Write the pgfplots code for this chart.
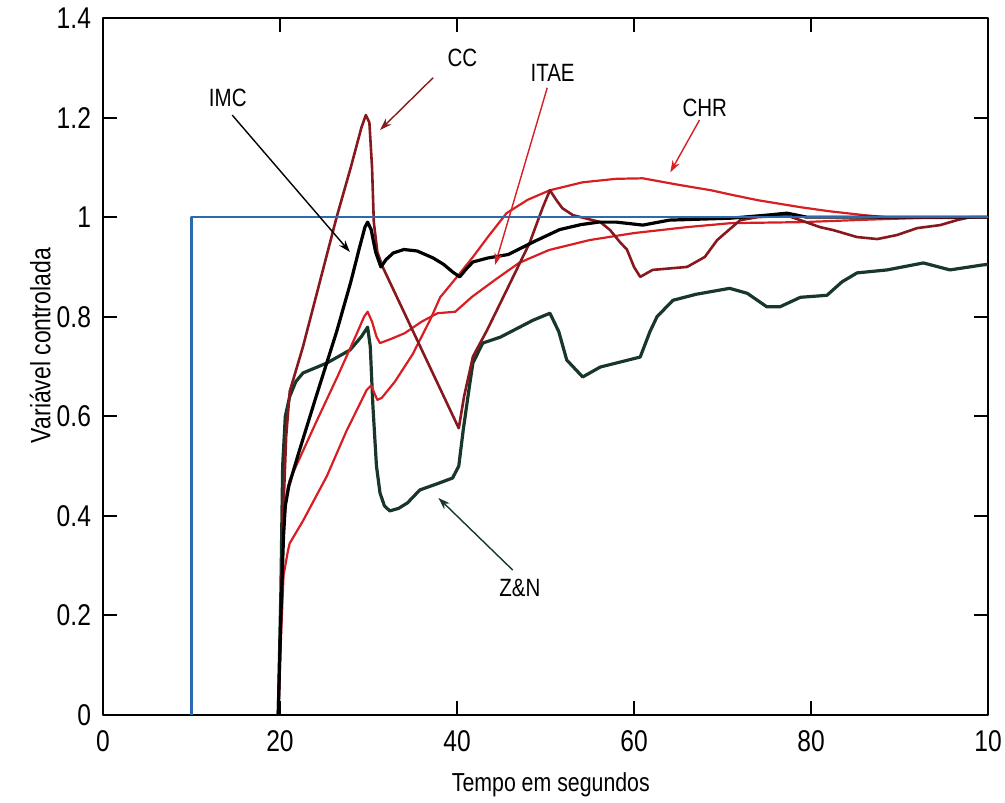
\documentclass[border=0pt]{standalone}
\usepackage{fontspec}
\setmainfont{Liberation Sans}[FakeStretch=0.82]
\usepackage{pgfplots}
\pgfplotsset{compat=1.18}
\usetikzlibrary{arrows.meta}

\definecolor{spblue}{RGB}{45,105,175}
\definecolor{ccred}{RGB}{135,25,30}
\definecolor{lred}{RGB}{215,30,35}
\definecolor{zngreen}{RGB}{25,55,40}

\begin{document}
\begin{tikzpicture}
\begin{axis}[
    scale only axis,
    width=442.5pt, height=348.5pt,
    xmin=0, xmax=100, ymin=0, ymax=1.4,
    xtick={0,20,40,60,80,100},
    xticklabels={0,20,40,60,80,10},
    ytick={0,0.2,0.4,0.6,0.8,1,1.2,1.4},
    tick align=inside,
    major tick length=7pt,
    axis line style={line width=1.1pt},
    every tick/.style={black, line width=1pt},
    /pgf/number format/assume math mode=true,
    tick label style={font=\fontsize{15}{17}\selectfont},
    xticklabel style={yshift=-4pt},
    yticklabel style={xshift=-2.5pt},
    xlabel={Tempo em segundos},
    ylabel={Variável controlada},
    xlabel style={font=\fontsize{13}{15}\selectfont, at={(axis description cs:0.506,0)}, anchor=center, yshift=-35pt},
    ylabel style={font=\fontsize{14}{16}\selectfont, at={(axis description cs:-0.071,0.53)}, anchor=center},
    line join=round,
    clip=false,
]

% Z&N
\addplot[zngreen, line width=1.6pt] coordinates {
(19.8,0)(20.1,0.25)(20.3,0.5)(20.6,0.6)(21.1,0.64)(21.8,0.67)(22.6,0.687)
(25.3,0.707)(27.9,0.733)(29.2,0.76)(29.9,0.779)(30.2,0.74)(30.5,0.62)(30.9,0.5)
(31.3,0.446)(31.8,0.42)(32.4,0.41)(33.4,0.415)(34.4,0.426)(35.8,0.452)(38,0.466)
(39.5,0.476)(40.2,0.5)(40.7,0.572)(41.4,0.66)(41.8,0.707)(42.9,0.747)(44.9,0.759)
(48.6,0.793)(50.5,0.807)(51.5,0.77)(52.4,0.713)(54.2,0.679)(56.2,0.699)(60.7,0.719)
(61.8,0.77)(62.6,0.80)(64.4,0.833)(67,0.845)(70.8,0.857)(72.8,0.847)(75,0.82)
(76.5,0.82)(78.8,0.839)(81.8,0.843)(83.5,0.87)(85.2,0.888)(88.6,0.894)(92.7,0.908)
(95.7,0.894)(99.4,0.904)(100,0.905)
};

% ITAE
\addplot[lred, line width=1.1pt] coordinates {
(19.8,0)(20.1,0.2)(20.4,0.38)(20.8,0.45)(21.1,0.472)(24,0.585)(26.5,0.68)
(28.7,0.767)(29.5,0.80)(29.9,0.81)(30.4,0.79)(30.9,0.76)(31.3,0.747)(32.5,0.755)
(34.1,0.767)(36,0.79)(37.8,0.807)(39.8,0.81)(41.7,0.84)(44.3,0.874)(47,0.908)
(50.4,0.934)(55,0.954)(60,0.968)(66,0.98)(71,0.988)(79,0.99)(86.5,0.995)(95,1.0)(100,1.0)
};

% CHR
\addplot[lred, line width=1.1pt] coordinates {
(19.8,0)(20.1,0.15)(20.4,0.28)(20.9,0.33)(21.1,0.345)(22.6,0.39)(25.3,0.48)
(27.5,0.57)(29.8,0.653)(30.3,0.662)(30.7,0.645)(31.0,0.633)(31.5,0.637)(33,0.67)
(35,0.725)(37,0.795)(38.1,0.839)(40,0.88)(41.8,0.92)(43.7,0.965)(45.6,1.008)
(48,1.035)(50.5,1.054)(54.2,1.07)(58,1.077)(61,1.078)(65,1.065)(68.7,1.054)
(71,1.045)(74,1.034)(78.8,1.02)(82,1.012)(86,1.004)(89.7,0.998)(95,0.998)(100,1.0)
};

% CC
\addplot[ccred, line width=1.3pt] coordinates {
(19.8,0)(20.1,0.2)(20.4,0.42)(20.7,0.56)(21.1,0.65)(22.6,0.74)(24.5,0.87)
(26.4,1.0)(28,1.1)(29.2,1.18)(29.7,1.205)(30.1,1.19)(30.4,1.1)(30.6,0.99)
(31,0.93)(31.6,0.90)(40.2,0.576)(40.8,0.64)(41.8,0.72)(43.4,0.773)(45.6,0.853)
(48.2,0.948)(49.7,1.02)(50.5,1.054)(51.2,1.035)(51.9,1.018)(53.1,1.004)(56.2,0.99)
(57.3,0.974)(58.4,0.95)(59.2,0.935)(60,0.9)(60.7,0.88)(62.1,0.894)(66,0.9)
(68,0.92)(69.4,0.954)(72,0.994)(74,1.0)(77.3,1.003)(78.8,0.994)(81,0.98)
(82.5,0.974)(85.2,0.96)(87.5,0.956)(89.7,0.964)(92,0.978)(94.6,0.984)(96.5,0.994)
(98,1.0)(100,1.0)
};

% IMC
\addplot[black, line width=1.6pt] coordinates {
(19.8,0)(20.1,0.2)(20.4,0.36)(20.6,0.42)(21,0.46)(22,0.52)(24,0.635)(26.4,0.77)
(28,0.87)(29,0.94)(29.6,0.98)(29.9,0.99)(30.3,0.975)(30.8,0.93)(31.4,0.90)
(32,0.915)(32.8,0.928)(34,0.935)(35.5,0.932)(37.3,0.918)(38.5,0.905)(39.5,0.89)
(40.3,0.88)(41,0.895)(41.8,0.91)(43.5,0.918)(45.8,0.925)(48.6,0.95)(51.6,0.975)
(54,0.985)(56,0.99)(58,0.99)(61,0.984)(64,0.994)(71,0.998)(75,1.004)(77.3,1.008)
(79.5,1.0)(85,1.0)(100,1.0)
};

% set point
\addplot[spblue, line width=1.3pt] coordinates {(10,0)(10,1)(100,1)};

% annotations
\begin{scope}[font=\fontsize{12.5}{14}\selectfont]
\node at (axis cs:14.1,1.239) {IMC};
\draw[black, line width=0.7pt, -{Stealth[length=6pt,width=4pt]}] (axis cs:14.6,1.205) -- (axis cs:27.9,0.93);
\node at (axis cs:40.6,1.32) {CC};
\draw[ccred, line width=0.7pt, -{Stealth[length=6pt,width=4pt]}] (axis cs:37.3,1.28) -- (axis cs:31.3,1.175);
\node at (axis cs:50.8,1.29) {ITAE};
\draw[lred, line width=0.7pt, -{Stealth[length=6pt,width=4pt]}] (axis cs:50.2,1.26) -- (axis cs:44.3,0.904);
\node at (axis cs:68,1.22) {CHR};
\draw[lred, line width=0.7pt, -{Stealth[length=6pt,width=4pt]}] (axis cs:67.4,1.195) -- (axis cs:64.1,1.09);
\node at (axis cs:47.1,0.255) {Z\&N};
\draw[zngreen, line width=0.7pt, -{Stealth[length=6pt,width=4pt]}] (axis cs:46.3,0.291) -- (axis cs:37.9,0.436);
\end{scope}
\end{axis}
\pgfresetboundingbox
\path ([shift={(-51.5pt,-43.5pt)}]current axis.south west) rectangle ([shift={(8.5pt,9pt)}]current axis.north east);
\end{tikzpicture}
\end{document}
